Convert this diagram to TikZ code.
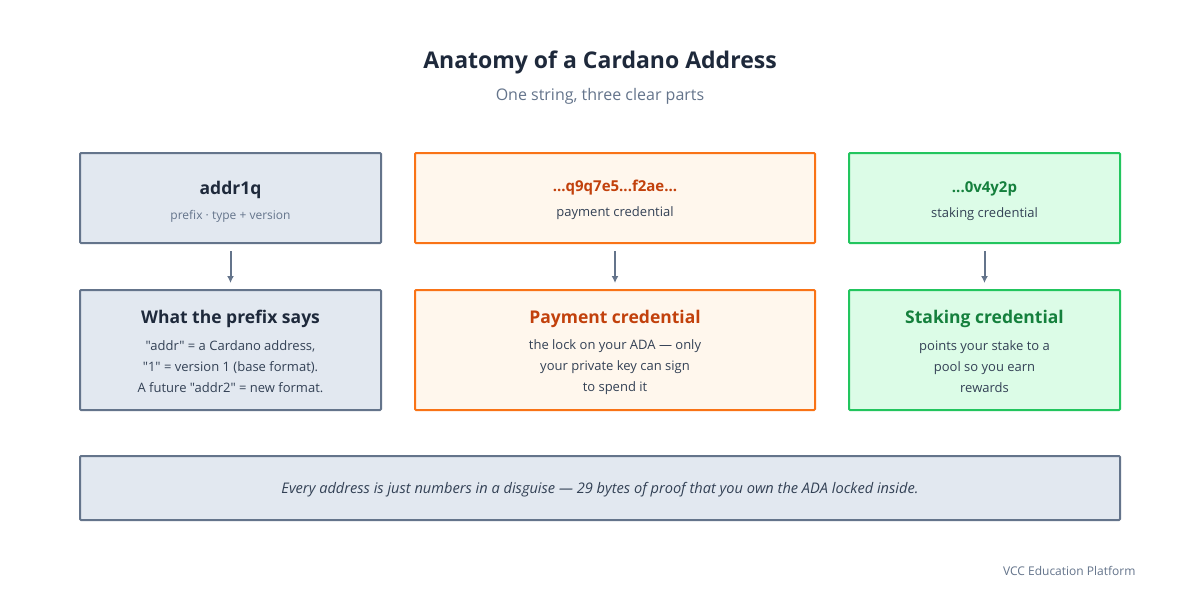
\documentclass[tikz,border=0pt]{standalone}
\usepackage{fontspec}
\defaultfontfeatures{}
\setmainfont{Open Sans}[Ligatures=TeXOff]
\usetikzlibrary{arrows.meta}
\definecolor{slf}{HTML}{E2E8F0}\definecolor{sls}{HTML}{64748B}
\definecolor{orf}{HTML}{FFF7ED}\definecolor{ors}{HTML}{F97316}\definecolor{ort}{HTML}{C2410C}
\definecolor{grf}{HTML}{DCFCE7}\definecolor{grs}{HTML}{22C55E}\definecolor{grt}{HTML}{15803D}
\definecolor{dark}{HTML}{1E293B}\definecolor{body}{HTML}{334155}
\begin{document}
\begin{tikzpicture}[x=1pt,y=-1pt,
 box/.style={draw, line width=2pt, rounded corners=1pt},
 arr/.style={draw=sls, line width=2pt, -{Latex[length=7pt,width=7pt]}},
 hd/.style={font=\bfseries\fontsize{17.5}{22}\selectfont},
 bd/.style={align=center,text=body,font=\fontsize{13}{21}\selectfont}]
\useasboundingbox[fill=white] (0,0) rectangle (1200,600);
\node[font=\bfseries\fontsize{23}{28}\selectfont,text=dark] (title) at (600,62) {Anatomy of a Cardano Address};
\node[font=\fontsize{16}{20}\selectfont,text=sls] (sub) at (600,96) {One string, three clear parts};
% top boxes
\path[box,draw=sls,fill=slf] (80,153) rectangle (381,243);
\node[hd,text=dark] (h1) at (230.5,190) {addr1q};
\node[font=\fontsize{12}{14}\selectfont,text=sls] (s1) at (230.5,216) {prefix · type + version};
\path[box,draw=ors,fill=orf] (415,153) rectangle (815,243);
\node[font=\bfseries\fontsize{15}{18}\selectfont,text=ort] (h2) at (615,188) {...q9q7e5...f2ae...};
\node[bd] (s2) at (615,213) {payment credential};
\path[box,draw=grs,fill=grf] (849,153) rectangle (1120,243);
\node[font=\bfseries\fontsize{15}{18}\selectfont,text=grt] (h3) at (984.5,189) {...0v4y2p};
\node[bd] (s3) at (984.5,214) {staking credential};
% bottom boxes
\path[box,draw=sls,fill=slf] (80,290) rectangle (381,410);
\path[box,draw=ors,fill=orf] (415,290) rectangle (815,410);
\path[box,draw=grs,fill=grf] (849,290) rectangle (1120,410);
\coordinate (c1) at (230.5,283); \coordinate (c2) at (615,283); \coordinate (c3) at (984.5,283);
\coordinate (d1) at (230.5,251); \coordinate (d2) at (615,251); \coordinate (d3) at (984.5,251);
\draw[arr] (d1) -- (c1); \draw[arr] (d2) -- (c2); \draw[arr] (d3) -- (c3);
\node[hd,text=dark] (H1) at (230.5,319) {What the prefix says};
\node[bd] (B1) at (230.5,367) {"addr" = a Cardano address,\\"1" = version 1 (base format).\\A future "addr2" = new format.};
\node[hd,text=ort] (H2) at (615,319) {Payment credential};
\node[bd] (B2) at (615,367) {the lock on your ADA — only\\your private key can sign\\to spend it};
\node[hd,text=grt] (H3) at (984.5,319) {Staking credential};
\node[bd] (B3) at (984.5,367) {points your stake to a\\pool so you earn\\rewards};
% banner
\path[box,draw=sls,fill=slf] (80,456) rectangle (1120,520);
\node[text=body,font=\itshape\fontsize{14.6}{17}\selectfont] (ban) at (600,490) {Every address is just numbers in a disguise — 29 bytes of proof that you own the ADA locked inside.};
\node[anchor=east,text=sls,font=\fontsize{12}{14}\selectfont] (foot) at (1139,571) {VCC Education Platform};
\end{tikzpicture}
\end{document}
